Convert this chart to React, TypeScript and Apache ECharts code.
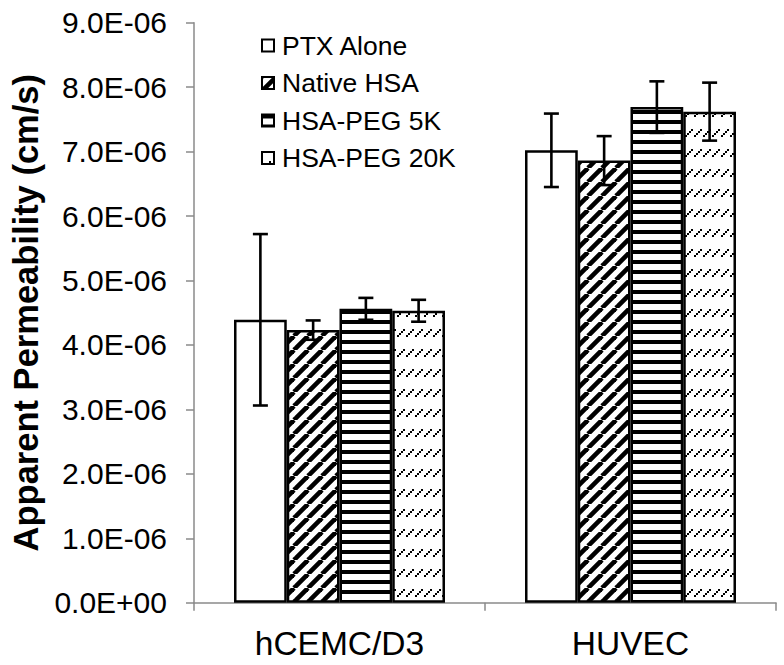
import React, { useEffect, useRef } from "react";
import * as echarts from "echarts";

const categories = ["hCEMC/D3", "HUVEC"];
const seriesNames = ["PTX Alone", "Native HSA", "HSA-PEG 5K", "HSA-PEG 20K"];

const ptxAlone = [4.39e-6, 7.02e-6];
const ptxAloneErr = [1.33e-6, 0.57e-6];
const nativeHSA = [4.23e-6, 6.86e-6];
const nativeHSAErr = [0.15e-6, 0.38e-6];
const hsaPeg5k = [4.56e-6, 7.69e-6];
const hsaPeg5kErr = [0.17e-6, 0.4e-6];
const hsaPeg20k = [4.53e-6, 7.62e-6];
const hsaPeg20kErr = [0.17e-6, 0.45e-6];

const yMin = 0;
const yMax = 9e-6;
const yInterval = 1e-6;

const FONT = "'Liberation Sans', Arial, Helvetica, sans-serif";
const CAT_GAP = 0.275;

function makeCanvas(w: number, h: number, draw: (ctx: CanvasRenderingContext2D) => void) {
  const c = document.createElement("canvas");
  c.width = w;
  c.height = h;
  const ctx = c.getContext("2d")!;
  ctx.fillStyle = "#fff";
  ctx.fillRect(0, 0, w, h);
  draw(ctx);
  return { image: c, repeat: "repeat", imageWidth: w, imageHeight: h };
}

function makePatterns() {
  const plain = "#ffffff";
  const diag = makeCanvas(14, 14, (ctx) => {
    ctx.strokeStyle = "#000";
    ctx.lineWidth = 4.6;
    for (const x0 of [-14, 0, 14]) {
      ctx.beginPath();
      ctx.moveTo(x0, 14);
      ctx.lineTo(x0 + 14, 0);
      ctx.stroke();
    }
  });
  const horiz = makeCanvas(10, 10, (ctx) => {
    ctx.fillStyle = "#000";
    ctx.fillRect(0, 0, 10, 4);
  });
  const dashes = makeCanvas(9, 20, (ctx) => {
    ctx.fillStyle = "#000";
    ctx.fillRect(1, 15, 2, 2);
    ctx.fillRect(3, 13, 2, 2);
    ctx.fillRect(5, 11, 2, 2);
    ctx.fillRect(7, 9, 2, 2);
  });
  return [plain, diag, horiz, dashes];
}

function fmtSci(v: number) {
  if (v === 0) return "0.0E+00";
  const [m, e] = v.toExponential(1).split("e");
  const n = parseInt(e, 10);
  return m + "E" + (n < 0 ? "-" : "+") + String(Math.abs(n)).padStart(2, "0");
}

export default function App() {
  const ref = useRef<HTMLDivElement>(null);
  useEffect(() => {
    if (!ref.current) return;
    const chart = echarts.init(ref.current, undefined, { renderer: "svg" });
    const patterns = makePatterns();
    const values = [ptxAlone, nativeHSA, hsaPeg5k, hsaPeg20k];
    const errs = [ptxAloneErr, nativeHSAErr, hsaPeg5kErr, hsaPeg20kErr];
    const axisColor = "#8a8a8a";

    const barSeries = seriesNames.map((name, i) => ({
      type: "bar",
      name,
      data: values[i],
      barGap: "0%",
      barCategoryGap: CAT_GAP * 100 + "%",
      itemStyle: { color: patterns[i], borderColor: "#000", borderWidth: 2.5 },
      emphasis: { disabled: true },
      z: 2,
    }));

    const errSeries = seriesNames.map((name, i) => ({
      type: "custom",
      name: name + " error",
      z: 5,
      encode: { x: 0, y: [1, 2] },
      data: values[i].map((v, ci) => [ci, v - errs[i][ci], v + errs[i][ci]]),
      renderItem: (params: any, api: any) => {
        const ci = api.value(0);
        const lo = api.coord([ci, api.value(1)]);
        const hi = api.coord([ci, api.value(2)]);
        const band = api.size([1, 0])[0];
        const barW = (band * (1 - CAT_GAP)) / 4;
        const x = lo[0] + (i - 1.5) * barW;
        const half = 7.5;
        const st = { stroke: "#000", lineWidth: 2.6 };
        return {
          type: "group",
          children: [
            { type: "line", shape: { x1: x, y1: hi[1], x2: x, y2: lo[1] }, style: st },
            { type: "line", shape: { x1: x - half, y1: hi[1], x2: x + half, y2: hi[1] }, style: st },
            { type: "line", shape: { x1: x - half, y1: lo[1], x2: x + half, y2: lo[1] }, style: st },
          ],
        };
      },
    }));

    chart.setOption({
      animation: false,
      backgroundColor: "#ffffff",
      textStyle: { fontFamily: FONT },
      grid: { left: 194, right: 8, top: 22.7, bottom: 62.3 },
      legend: {
        orient: "vertical",
        left: 261,
        top: 32,
        padding: 0,
        itemWidth: 12,
        itemHeight: 12,
        itemGap: 10.5,
        icon: "rect",
        data: seriesNames,
        selectedMode: false,
        textStyle: { fontSize: 26.5, color: "#000", fontFamily: FONT, lineHeight: 26, padding: [0, 0, 0, 3] },
        itemStyle: { borderColor: "#000", borderWidth: 2 },
      },
      xAxis: {
        type: "category",
        data: categories,
        axisLine: { show: true, lineStyle: { color: axisColor, width: 1.5 } },
        axisTick: { show: true, length: 8, lineStyle: { color: axisColor, width: 1.5 } },
        axisLabel: { fontSize: 33.5, color: "#000", margin: 24, fontFamily: FONT },
      },
      yAxis: {
        type: "value",
        min: yMin,
        max: yMax,
        interval: yInterval,
        name: "Apparent Permeability (cm/s)",
        nameLocation: "middle",
        nameGap: 151,
        nameTextStyle: { fontSize: 34.5, fontWeight: "bold", color: "#000", fontFamily: FONT },
        axisLine: { show: true, lineStyle: { color: axisColor, width: 1.5 } },
        axisTick: { show: true, length: 8, lineStyle: { color: axisColor, width: 1.5 } },
        splitLine: { show: false },
        axisLabel: { fontSize: 30, color: "#000", margin: 27, formatter: fmtSci, fontFamily: FONT },
      },
      series: [...barSeries, ...errSeries],
    } as any);
    return () => chart.dispose();
  }, []);
  return (
    <div
      ref={ref}
      style={{ position: "fixed", left: 0, top: 0, width: 784, height: 665, background: "#fff" }}
    />
  );
}
